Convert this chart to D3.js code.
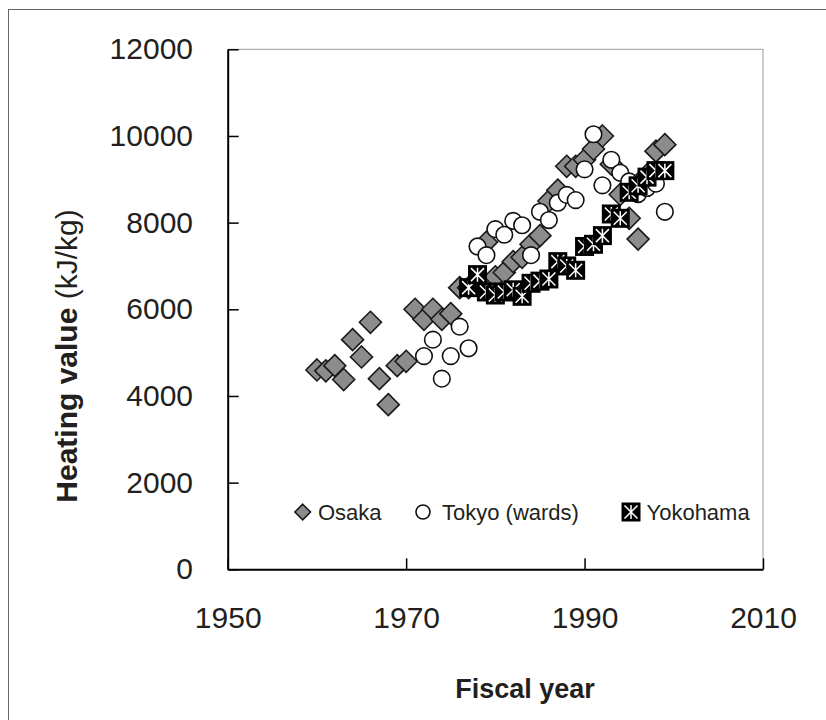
<!DOCTYPE html>
<html>
<head>
<meta charset="utf-8">
<script src="https://cdn.jsdelivr.net/npm/d3@7"></script>
<style>
  html, body { margin: 0; padding: 0; background: #fff; }
  svg { display: block; font-family: Arial, "Liberation Sans", sans-serif; }
</style>
</head>
<body>
<svg id="chart" width="826" height="720"></svg>
<script>
// Heating value of municipal refuse by fiscal year
const osakaYears = [1960,1961,1962,1963,1964,1965,1966,1967,1968,1969,1970,1971,1972,1973,1974,1975,1976,1977,1978,1979,1980,1981,1982,1983,1984,1985,1986,1987,1988,1989,1990,1991,1992,1993,1994,1995,1996,1997,1998,1999];
const osakaValues = [4600,4580,4700,4380,5300,4900,5700,4400,3800,4700,4800,6000,5770,6000,5770,5900,6500,6500,6600,7550,6750,6850,7100,7200,7500,7700,8500,8750,9300,9300,9450,9700,10000,9350,8650,8100,7620,9100,9650,9800];

const tokyoYears = [1972,1973,1974,1975,1976,1977,1978,1979,1980,1981,1982,1983,1984,1985,1986,1987,1988,1989,1990,1991,1992,1993,1994,1995,1996,1997,1998,1999];
const tokyoValues = [4920,5300,4400,4920,5600,5100,7450,7250,7850,7720,8040,7940,7250,8250,8060,8460,8640,8520,9230,10040,8860,9450,9150,8950,8660,8800,8900,8250];

const yokohamaYears = [1977,1978,1979,1980,1981,1982,1983,1984,1985,1986,1987,1988,1989,1990,1991,1992,1993,1994,1995,1996,1997,1998,1999];
const yokohamaValues = [6500,6800,6400,6330,6400,6450,6300,6600,6650,6700,7100,7000,6900,7450,7500,7700,8200,8100,8700,8850,9050,9200,9200];

const xTicks = [1950,1970,1990,2010];
const yTicks = [0,2000,4000,6000,8000,10000,12000];
const seriesNames = ["Osaka", "Tokyo (wards)", "Yokohama"];

const svg = d3.select("#chart");
const textColor = "#231f20";

// outer frame (only its top and left edges fall inside the page)
svg.append("rect")
  .attr("x", 8.5).attr("y", 9.5)
  .attr("width", 840).attr("height", 740)
  .attr("fill", "none").attr("stroke", "#666").attr("stroke-width", 1);

const x = d3.scaleLinear().domain([1950, 2010]).range([227.7, 763]);
const y = d3.scaleLinear().domain([0, 12000]).range([569.3, 49.3]);

// plot box: top and right edges in light grey
svg.append("path")
  .attr("d", `M${x(1950)},${y(12000)}H${x(2010)}V${y(0)}`)
  .attr("fill", "none").attr("stroke", "#9a9a9a").attr("stroke-width", 1);

// axes with inward ticks
const xAxis = svg.append("g")
  .attr("transform", `translate(0,${y(0)})`)
  .call(d3.axisBottom(x).tickValues(xTicks).tickFormat(d3.format("d"))
        .tickSizeInner(-11).tickSizeOuter(0).tickPadding(37));
const yAxis = svg.append("g")
  .attr("transform", `translate(${x(1950)},0)`)
  .call(d3.axisLeft(y).tickValues(yTicks).tickFormat(d3.format("d"))
        .tickSizeInner(-11).tickSizeOuter(0).tickPadding(34.7));

[xAxis, yAxis].forEach(g => {
  g.select(".domain").attr("stroke", "#000").attr("stroke-width", 2);
  g.selectAll(".tick line").attr("stroke", "#000").attr("stroke-width", 1.5);
  g.selectAll(".tick text")
    .attr("fill", textColor)
    .style("font-size", "30px")
    .style("font-family", "Arial, 'Liberation Sans', sans-serif");
});

// axis titles
svg.append("text")
  .attr("x", 525).attr("y", 698)
  .attr("text-anchor", "middle")
  .attr("fill", textColor)
  .style("font-size", "27px").style("font-weight", "bold")
  .text("Fiscal year");

const yTitle = svg.append("text")
  .attr("transform", "translate(77,356) rotate(-90)")
  .attr("text-anchor", "middle")
  .attr("fill", textColor)
  .style("font-size", "30px");
yTitle.append("tspan").style("font-weight", "bold").text("Heating value ");
yTitle.append("tspan").text("(kJ/kg)");

// marker painters
const diamondPath = (half) => `M0,${-half}L${half},0L0,${half}L${-half},0Z`;

function drawDiamond(sel, half) {
  sel.append("path")
    .attr("d", diamondPath(half))
    .attr("fill", "#8c8c8c")
    .attr("stroke", "#1a1a1a").attr("stroke-width", 1.6);
}
function drawCircle(sel, r) {
  sel.append("circle")
    .attr("r", r)
    .attr("fill", "#fff")
    .attr("stroke", "#111").attr("stroke-width", 1.6);
}
function drawStarSquare(sel, s) {
  const h = s / 2;
  sel.append("rect")
    .attr("x", -h).attr("y", -h).attr("width", s).attr("height", s)
    .attr("fill", "#000");
  const a = h - 3, b = h - 2.5;
  sel.append("path")
    .attr("d", `M0,${-b}V${b}M${-a},${-a}L${a},${a}M${a},${-a}L${-a},${a}`)
    .attr("stroke", "#fff").attr("stroke-width", 1.5).attr("fill", "none");
}

const plot = svg.append("g");

const osaka = osakaYears.map((yr, i) => ({ year: yr, value: osakaValues[i] }));
const tokyo = tokyoYears.map((yr, i) => ({ year: yr, value: tokyoValues[i] }));
const yokohama = yokohamaYears.map((yr, i) => ({ year: yr, value: yokohamaValues[i] }));

plot.append("g").selectAll("g").data(osaka).join("g")
  .attr("transform", d => `translate(${x(d.year)},${y(d.value)})`)
  .each(function () { drawDiamond(d3.select(this), 11); });

plot.append("g").selectAll("g").data(tokyo).join("g")
  .attr("transform", d => `translate(${x(d.year)},${y(d.value)})`)
  .each(function () { drawCircle(d3.select(this), 8.3); });

plot.append("g").selectAll("g").data(yokohama).join("g")
  .attr("transform", d => `translate(${x(d.year)},${y(d.value)})`)
  .each(function () { drawStarSquare(d3.select(this), 19); });

// legend inside the plot
const legend = svg.append("g").attr("transform", "translate(0,512)");
const legendItems = [
  { name: seriesNames[0], mx: 302.7, tx: 318, draw: g => drawDiamond(g, 7.8) },
  { name: seriesNames[1], mx: 423, tx: 442, draw: g => drawCircle(g, 7) },
  { name: seriesNames[2], mx: 631, tx: 646.5, draw: g => drawStarSquare(g, 19) }
];
legendItems.forEach(item => {
  const m = legend.append("g").attr("transform", `translate(${item.mx},0)`);
  item.draw(m);
  legend.append("text")
    .attr("x", item.tx).attr("y", 8)
    .attr("fill", textColor)
    .style("font-size", "22px")
    .text(item.name);
});
</script>
</body>
</html>
